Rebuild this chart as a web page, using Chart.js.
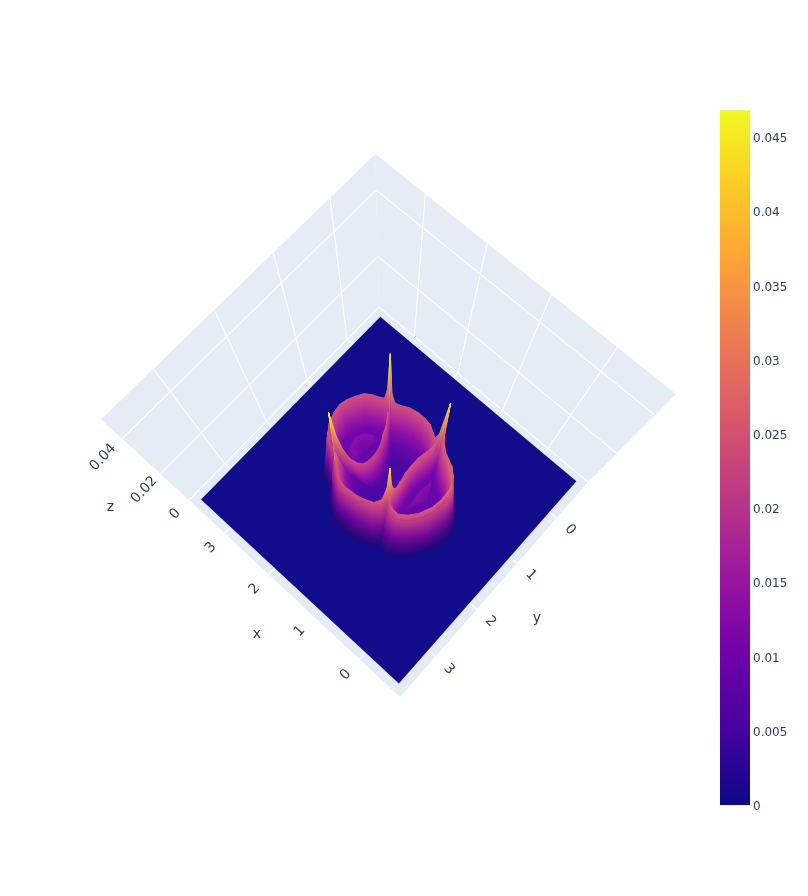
<!DOCTYPE html>
<html>
<head>
<meta charset="utf-8">
<title>surface</title>
<script src="https://cdn.jsdelivr.net/npm/chart.js@4"></script>
<style>
  html, body { margin: 0; background: #fff; }
  canvas { position: absolute; display: block; }
  #scene { left: 0; top: 0; }
  #colorbar { left: 720px; top: 100px; }
</style>
</head>
<body>
<canvas id="scene" width="808" height="896"></canvas>
<canvas id="colorbar" width="88" height="720"></canvas>
<script>
// --- DATA ---
const xTicks = [0, 1, 2, 3];
const yTicks = [0, 1, 2, 3];
const zTicks = [0, 0.02, 0.04];
const colorbarTicks = [0, 0.005, 0.01, 0.015, 0.02, 0.025, 0.03, 0.035, 0.04, 0.045];
const colorMax = 0.0468;
const plasmaStops = ['#0d0887', '#46039f', '#7201a8', '#9c179e', '#bd3786', '#d8576b', '#ed7953', '#fb9f3a', '#fdca26', '#f0f921'];

// axis box and the extent of the surface
const xRange = [-0.86, 3.83];
const yRange = [-0.82, 3.83];
const zTop = 0.0487;
const surfaceX = [-0.71, 3.69];
const surfaceY = [-0.70, 3.69];

// rim of the ridge, one arc at a time, running from spike to spike
const backX = [2.06, 2.09, 2.13, 2.23, 2.31, 2.39, 2.46, 2.48, 2.457, 2.405, 2.33, 2.24, 2.147, 2.07, 2.025, 1.99];
const backY = [1.95, 1.945, 1.93, 1.885, 1.86, 1.74, 1.58, 1.44, 1.329, 1.21, 1.098, 1.035, 0.989, 0.955, 0.94, 0.93];
const backZ = [0.0445, 0.033, 0.028, 0.0268, 0.0265, 0.0265, 0.026, 0.026, 0.026, 0.026, 0.0262, 0.0262, 0.026, 0.0262, 0.031, 0.0455];

const farX = [1.99, 1.96, 1.915, 1.83, 1.71, 1.584, 1.46, 1.336, 1.23, 1.15, 1.10, 1.07];
const farY = [0.93, 0.925, 0.91, 0.875, 0.83, 0.804, 0.80, 0.82, 0.88, 0.93, 0.92, 0.86];
const farZ = [0.0455, 0.030, 0.0262, 0.026, 0.0265, 0.0265, 0.0265, 0.0265, 0.0265, 0.0268, 0.03, 0.0435];

const frontX = [1.07, 1.045, 1.01, 0.95, 0.89, 0.78, 0.67, 0.575, 0.51, 0.49, 0.50, 0.525, 0.61, 0.70, 0.81, 0.92, 0.99, 1.04, 1.07];
const frontY = [0.86, 0.89, 0.93, 0.98, 1.03, 1.10, 1.17, 1.25, 1.335, 1.44, 1.555, 1.70, 1.875, 1.99, 2.07, 2.06, 2.02, 1.98, 1.95];
const frontZ = [0.0435, 0.033, 0.029, 0.029, 0.029, 0.03, 0.031, 0.031, 0.031, 0.03, 0.028, 0.0275, 0.027, 0.027, 0.027, 0.027, 0.0275, 0.031, 0.0435];

const nearX = [1.07, 1.08, 1.09, 1.165, 1.29, 1.41, 1.53, 1.62, 1.73, 1.845, 1.94, 2.06];
const nearY = [1.95, 1.99, 2.08, 2.16, 2.205, 2.24, 2.25, 2.26, 2.245, 2.17, 2.08, 1.95];
const nearZ = [0.0435, 0.033, 0.028, 0.0265, 0.026, 0.026, 0.026, 0.026, 0.0265, 0.027, 0.03, 0.0445];

const innerLeftX = [1.99, 1.96, 1.92, 1.874, 1.80, 1.75, 1.70, 1.668, 1.657, 1.667, 1.687, 1.737, 1.82, 1.88, 1.96, 2.02, 2.06];
const innerLeftY = [0.93, 0.97, 1.035, 1.106, 1.21, 1.335, 1.44, 1.55, 1.653, 1.76, 1.823, 1.883, 1.91, 1.915, 1.93, 1.94, 1.95];
const innerLeftZ = [0.0455, 0.033, 0.028, 0.027, 0.026, 0.025, 0.024, 0.024, 0.024, 0.024, 0.024, 0.025, 0.0255, 0.026, 0.029, 0.034, 0.0445];

const innerRightX = [1.07, 1.075, 1.078, 1.08, 1.09, 1.11, 1.128, 1.128, 1.119, 1.09, 1.07, 1.065, 1.068, 1.07];
const innerRightY = [0.86, 0.90, 0.95, 1.02, 1.09, 1.20, 1.308, 1.44, 1.567, 1.70, 1.82, 1.88, 1.92, 1.95];
const innerRightZ = [0.0435, 0.033, 0.029, 0.028, 0.027, 0.027, 0.027, 0.027, 0.027, 0.027, 0.027, 0.029, 0.033, 0.0435];

// middle of the three hollows
const hubLeft = [2.06, 1.44];
const hubMiddle = [1.41, 1.46];
const hubRight = [0.81, 1.39];

// how the surface falls away from the rim
const wallReach = [0, 0.02, 0.05, 0.09, 0.125, 0.16, 0.2, 0.24, 0.29];
const wallLevel = [1, 0.92, 0.78, 0.62, 0.46, 0.3, 0.16, 0.06, 0];
const wallShade = [1, 0.98, 0.95, 0.92, 0.88, 0.84, 0.8, 0.82, 1];
const lobeReach = [0, 0.04, 0.1, 0.2, 0.32, 0.45, 0.6, 0.8, 1];
const lobePlain = [0, 0.021, 0.016, 0.011, 0.0095, 0.0095, 0.0095, 0.0095, 0.0095];
const lobeCrescent = [0, 0.021, 0.016, 0.011, 0.0095, 0.01, 0.014, 0.012, 0.0095];
const bowlReach = [0, 0.04, 0.1, 0.2, 0.35, 0.55, 0.75, 1];
const bowlHeight = [0, 0.02, 0.014, 0.0095, 0.0065, 0.0055, 0.006, 0.0065];

// --- PROJECTION ---
// floor corners of the axis box on the page, and where its verticals converge
const floorCornerX = [588, 379, 189, 400];
const floorCornerY = [482, 307, 500, 697];
const verticalPoint = [388, 682];
const zStretch = 6.27;

const fx = floorCornerX, fy = floorCornerY;
const d1x = fx[1] - fx[2], d1y = fy[1] - fy[2], d2x = fx[3] - fx[2], d2y = fy[3] - fy[2];
const sx = fx[0] - fx[1] + fx[2] - fx[3], sy = fy[0] - fy[1] + fy[2] - fy[3];
const den = d1x * d2y - d2x * d1y;
const g = (sx * d2y - d2x * sy) / den, h = (d1x * sy - sx * d1y) / den;

function project(x, y, z) {
  const u = (x - xRange[0]) / (xRange[1] - xRange[0]);
  const v = (y - yRange[0]) / (yRange[1] - yRange[0]);
  const w = g * u + h * v + 1;
  const px = ((fx[1] - fx[0] + g * fx[1]) * u + (fx[3] - fx[0] + h * fx[3]) * v + fx[0]) / w;
  const py = ((fy[1] - fy[0] + g * fy[1]) * u + (fy[3] - fy[0] + h * fy[3]) * v + fy[0]) / w;
  const k = zStretch * z;
  return { x: (w * px - k * verticalPoint[0]) / (w - k), y: (w * py - k * verticalPoint[1]) / (w - k) };
}

// --- COLOURS ---
function hexToRgb(hex) {
  return [1, 3, 5].map(i => parseInt(hex.slice(i, i + 2), 16));
}

// the lit surface reads a little darker than its height on the colorbar
function litHeight(z) {
  return z < 0.03 ? z * 0.92 : 0.0276 + (z - 0.03) * 1.2;
}

function surfaceColor(z, shade) {
  const t = Math.max(0, Math.min(0.9999, litHeight(z) / colorMax)) * (plasmaStops.length - 1);
  const i = Math.floor(t);
  const a = hexToRgb(plasmaStops[i]), b = hexToRgb(plasmaStops[i + 1]);
  const rgb = a.map((c, n) => Math.round((c + (b[n] - c) * (t - i)) * shade + 5));
  return `rgb(${rgb[0]},${rgb[1]},${rgb[2]})`;
}

// --- SCENE ---
const sceneCanvas = document.getElementById('scene');
const sceneCtx = sceneCanvas.getContext('2d');
const eye = [-0.7, 3.8, 15.5];

function polygon(corners, color) {
  return { data: corners.map(c => project(c[0], c[1], c[2])), showLine: true, fill: 'shape',
    backgroundColor: color, borderColor: color, borderWidth: 0, pointRadius: 0, tension: 0 };
}

function gridLine(corners) {
  return { data: corners.map(c => project(c[0], c[1], c[2])), showLine: true, fill: false,
    borderColor: '#ffffff', borderWidth: 1.2, pointRadius: 0, tension: 0 };
}

// a cell is coloured along the direction in which its height changes on the page
function cellFill(cell, pts) {
  const [a, b, c, d] = cell;
  const [pa, pb, pc, pd] = pts;
  const e1x = (pc.x + pd.x - pa.x - pb.x) / 2, e1y = (pc.y + pd.y - pa.y - pb.y) / 2;
  const e2x = (pb.x + pc.x - pa.x - pd.x) / 2, e2y = (pb.y + pc.y - pa.y - pd.y) / 2;
  const dz1 = (c.z + d.z - a.z - b.z) / 2, dz2 = (b.z + c.z - a.z - d.z) / 2;
  const det = e1x * e2y - e1y * e2x;
  const sorted = cell.slice().sort((m, n) => m.z - n.z);
  const low = sorted[0], high = sorted[3];
  const zc = (a.z + b.z + c.z + d.z) / 4;
  const solid = surfaceColor(zc, (a.shade + c.shade) / 2);
  if (Math.abs(det) < 1e-4 || high.z - low.z < 1e-5) return solid;
  const gx = (dz1 * e2y - dz2 * e1y) / det, gy = (e1x * dz2 - e2x * dz1) / det;
  const norm = gx * gx + gy * gy;
  if (norm < 1e-12 || (high.z - low.z) / Math.sqrt(norm) < 0.5) return solid;
  const cx = (pa.x + pb.x + pc.x + pd.x) / 4, cy = (pa.y + pb.y + pc.y + pd.y) / 4;
  const lo = (low.z - zc) / norm, hi = (high.z - zc) / norm;
  const fillStyle = sceneCtx.createLinearGradient(cx + gx * lo, cy + gy * lo, cx + gx * hi, cy + gy * hi);
  fillStyle.addColorStop(0, surfaceColor(low.z, low.shade));
  fillStyle.addColorStop(1, surfaceColor(high.z, high.shade));
  return fillStyle;
}

function meshCell(a, b, c, d, bias) {
  const cell = [a, b, c, d];
  const pts = cell.map(p => project(p.x, p.y, p.z));
  const fillStyle = cellFill(cell, pts);
  return {
    depth: bias + cell.reduce((sum, p) => sum + Math.hypot(p.x - eye[0], p.y - eye[1], p.z * 96 - eye[2]), 0),
    data: pts.concat([pts[0]]),
    showLine: true, fill: 'shape', backgroundColor: fillStyle, borderColor: fillStyle,
    borderWidth: 0.7, pointRadius: 0, tension: 0
  };
}

function wallRows(ax, ay, az, hub) {
  return ax.map((x, i) => {
    const dx = x - hub[0], dy = ay[i] - hub[1], len = Math.hypot(dx, dy);
    return wallReach.map((r, n) => ({
      x: x + dx / len * r, y: ay[i] + dy / len * r,
      z: n === 0 ? az[i] : Math.min(az[i], 0.03) * wallLevel[n],
      shade: wallShade[n]
    }));
  });
}

// the two spokes that end on a spike are shared by neighbouring sheets, so they stay plain
function hollowRows(ax, ay, az, hub, reach, height, edgeHeight) {
  return ax.map((x, i) => {
    const heights = (i === 0 || i === ax.length - 1) && edgeHeight ? edgeHeight : height;
    return reach.map((t, n) => ({
      x: x + (hub[0] - x) * t, y: ay[i] + (hub[1] - ay[i]) * t,
      z: n === 0 ? az[i] : heights[n],
      shade: 1
    }));
  });
}

// bias pushes the side of a ridge that faces away from the viewer behind the other side
function meshCells(rows, bias) {
  const cells = [];
  for (let i = 0; i < rows.length - 1; i++) {
    for (let n = 0; n < rows[i].length - 1; n++) {
      cells.push(meshCell(rows[i][n], rows[i + 1][n], rows[i + 1][n + 1], rows[i][n + 1], bias));
    }
  }
  return cells;
}

const surfaceCells = [
  ...meshCells(wallRows(backX, backY, backZ, hubLeft), 6),
  ...meshCells(hollowRows(backX, backY, backZ, hubLeft, lobeReach, lobeCrescent, lobePlain), 0),
  ...meshCells(hollowRows(innerLeftX, innerLeftY, innerLeftZ, hubLeft, lobeReach, lobePlain), 2),
  ...meshCells(hollowRows(innerLeftX, innerLeftY, innerLeftZ, hubMiddle, bowlReach, bowlHeight), 0),
  ...meshCells(wallRows(farX, farY, farZ, hubMiddle), 6),
  ...meshCells(hollowRows(farX, farY, farZ, hubMiddle, bowlReach, bowlHeight), 0),
  ...meshCells(wallRows(frontX, frontY, frontZ, hubRight), 0),
  ...meshCells(hollowRows(frontX, frontY, frontZ, hubRight, lobeReach, lobePlain), 0),
  ...meshCells(hollowRows(innerRightX, innerRightY, innerRightZ, hubRight, lobeReach, lobeCrescent, lobePlain), 0),
  ...meshCells(hollowRows(innerRightX, innerRightY, innerRightZ, hubMiddle, bowlReach, bowlHeight), 2),
  ...meshCells(wallRows(nearX, nearY, nearZ, hubMiddle), 0),
  ...meshCells(hollowRows(nearX, nearY, nearZ, hubMiddle, bowlReach, bowlHeight), 6)
].sort((a, b) => b.depth - a.depth);

const [x0, x1] = xRange, [y0, y1] = yRange;
const paneColor = '#e5ecf6';
const backToFront = [
  polygon([[x1, y1, 0], [x1, y0, 0], [x1, y0, zTop], [x1, y1, zTop], [x1, y1, 0]], paneColor),
  polygon([[x0, y0, 0], [x1, y0, 0], [x1, y0, zTop], [x0, y0, zTop], [x0, y0, 0]], paneColor),
  polygon([[x0, y0, 0], [x1, y0, 0], [x1, y1, 0], [x0, y1, 0], [x0, y0, 0]], paneColor),
  ...zTicks.map(z => gridLine([[x1, y1, z], [x1, y0, z], [x0, y0, z]])),
  ...yTicks.map(y => gridLine([[x0, y, 0], [x1, y, 0], [x1, y, zTop]])),
  ...xTicks.map(x => gridLine([[x, y1, 0], [x, y0, 0], [x, y0, zTop]])),
  polygon([[surfaceX[0], surfaceY[0], 0], [surfaceX[1], surfaceY[0], 0], [surfaceX[1], surfaceY[1], 0],
    [surfaceX[0], surfaceY[1], 0], [surfaceX[0], surfaceY[0], 0]], surfaceColor(0, 1)),
  ...surfaceCells
];

// --- AXIS TEXT ---
const tickFont = '14px "DejaVu Sans"';
const titleFont = '14px "DejaVu Sans"';
const sceneText = [
  ...xTicks.map(v => ({ text: String(v), at: project(v, y1 + 0.32, 0), angle: -47, font: tickFont })),
  ...yTicks.map(v => ({ text: String(v), at: project(x0 - 0.29, v, 0), angle: 47, font: tickFont })),
  ...zTicks.map(v => ({ text: String(v), at: project(x1, y1 + 0.32, v), angle: -47, font: tickFont })),
  { text: 'x', at: project(1.47, y1 + 0.81, 0), angle: 0, font: titleFont },
  { text: 'y', at: project(x0 - 0.8, 1.46, 0), angle: 0, font: titleFont },
  { text: 'z', at: project(x1, y1 + 0.79, 0.025), angle: 0, font: titleFont }
];

const axisTextPlugin = {
  id: 'axisText',
  afterDatasetsDraw(chart) {
    const { ctx, scales } = chart;
    ctx.save();
    ctx.fillStyle = '#2a3f5f';
    ctx.textAlign = 'center';
    ctx.textBaseline = 'middle';
    sceneText.forEach(label => {
      ctx.save();
      ctx.translate(scales.x.getPixelForValue(label.at.x), scales.y.getPixelForValue(label.at.y));
      ctx.rotate(label.angle * Math.PI / 180);
      ctx.font = label.font;
      ctx.fillText(label.text, 0, 0);
      ctx.restore();
    });
    ctx.restore();
  }
};

// first dataset is painted last
new Chart(sceneCanvas, {
  type: 'scatter',
  data: { datasets: backToFront.reverse() },
  options: {
    responsive: false,
    animation: false,
    events: [],
    layout: { padding: 0 },
    plugins: { legend: { display: false }, tooltip: { enabled: false } },
    scales: {
      x: { type: 'linear', display: false, min: 0, max: 808 },
      y: { type: 'linear', display: false, min: 0, max: 896, reverse: true }
    }
  },
  plugins: [axisTextPlugin]
});

// --- COLORBAR ---
new Chart(document.getElementById('colorbar'), {
  type: 'bar',
  data: {
    labels: [''],
    datasets: [{
      data: [[0, colorMax]],
      barPercentage: 1,
      categoryPercentage: 1,
      backgroundColor(context) {
        const area = context.chart.chartArea;
        if (!area) return plasmaStops[0];
        const gradient = context.chart.ctx.createLinearGradient(0, area.bottom, 0, area.top);
        plasmaStops.forEach((c, i) => gradient.addColorStop(i / (plasmaStops.length - 1), c));
        return gradient;
      }
    }]
  },
  options: {
    responsive: false,
    animation: false,
    events: [],
    layout: { padding: { top: 10, bottom: 15 } },
    plugins: { legend: { display: false }, tooltip: { enabled: false } },
    scales: {
      x: { display: false },
      y: {
        position: 'right',
        min: 0,
        max: colorMax,
        afterBuildTicks(scale) { scale.ticks = colorbarTicks.map(value => ({ value })); },
        afterFit(scale) { scale.width = 58; },
        grid: { display: false, drawTicks: false },
        border: { display: false },
        ticks: {
          padding: 3,
          labelOffset: 2,
          color: '#2a3f5f',
          font: { family: '"DejaVu Sans"', size: 12 },
          callback: value => String(value)
        }
      }
    }
  }
});
</script>
</body>
</html>
